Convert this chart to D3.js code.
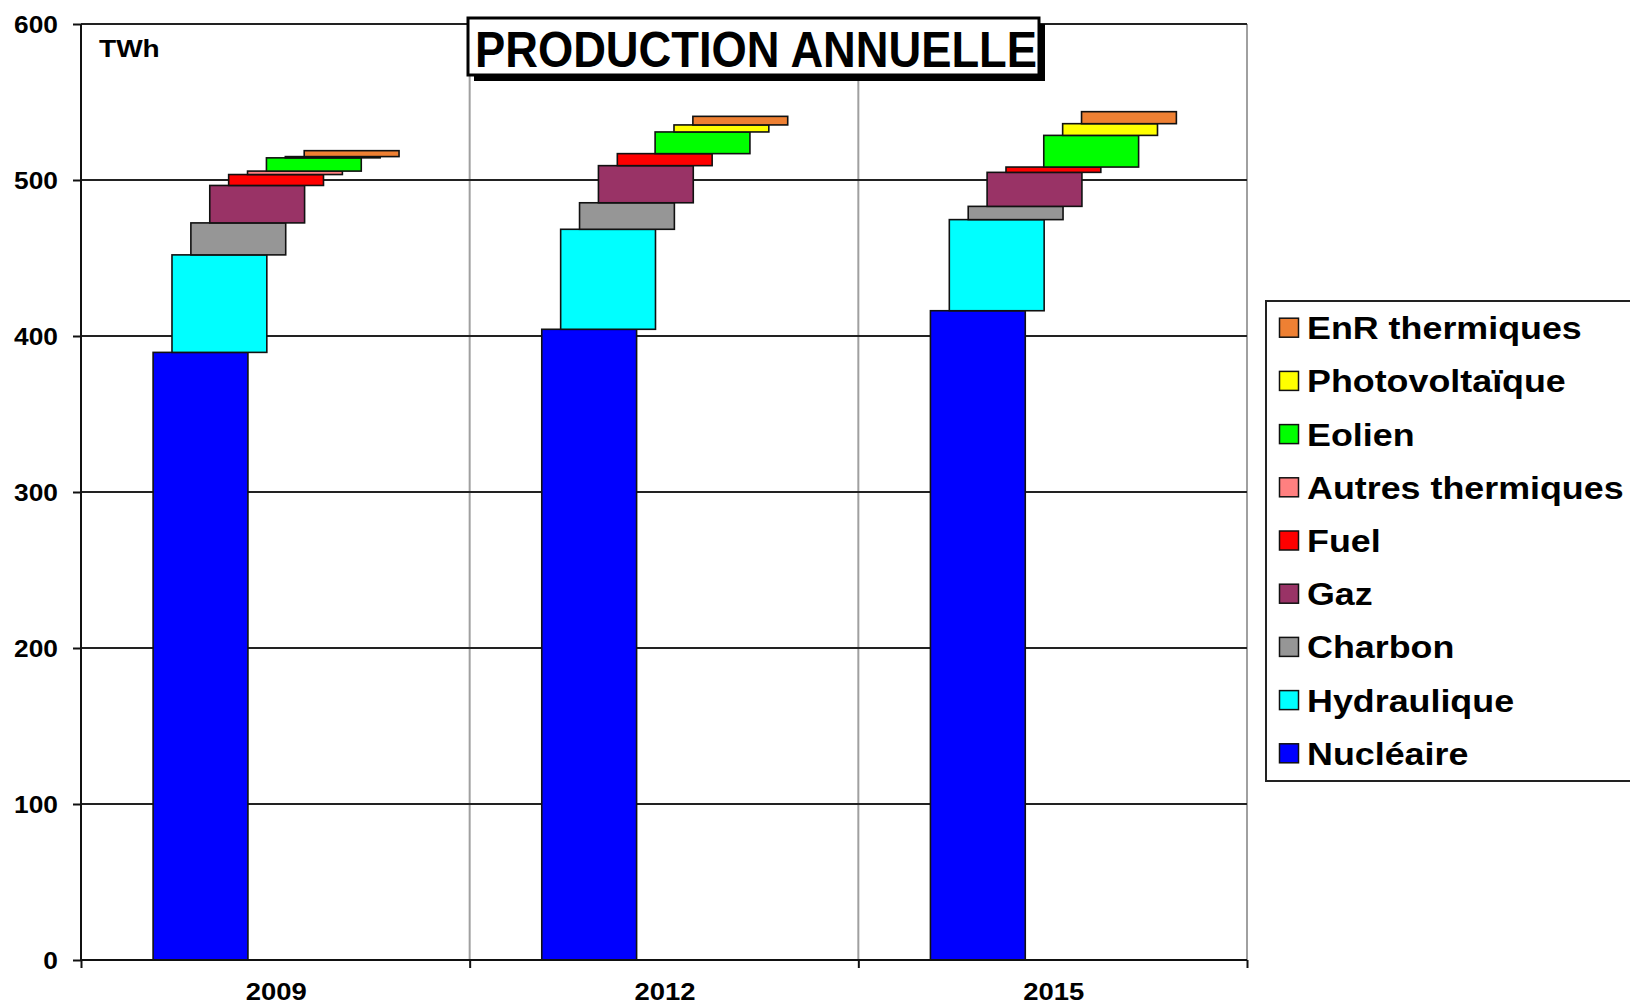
<!DOCTYPE html>
<html>
<head>
<meta charset="utf-8">
<script src="https://cdn.jsdelivr.net/npm/d3@7"></script>
<style>
  html, body { margin: 0; padding: 0; background: #fff; }
  svg { display: block; font-family: "Liberation Sans", Arial, sans-serif; }
</style>
</head>
<body>
<div id="chart"></div>
<script>
// Production annuelle (TWh) — stacked, each source shifted right (staircase)

const YEARS = ['2009', '2012', '2015'];
const SOURCES = ['Nucléaire', 'Hydraulique', 'Charbon', 'Gaz', 'Fuel',
  'Autres thermiques', 'Eolien', 'Photovoltaïque', 'EnR thermiques'];
const COLORS = ['#0000ff', '#00ffff', '#969696', '#993366', '#ff0000',
  '#ff8080', '#00ff00', '#ffff00', '#ee8033'];

const NUCLEAIRE = [389.5, 404.3, 416.2];
const HYDRAULIQUE = [62.5, 64.1, 58.4];
const CHARBON = [20.5, 17.0, 8.5];
const GAZ = [24.0, 23.8, 21.8];
const FUEL = [7.0, 7.7, 3.4];
const AUTRES_THERMIQUES = [2.2, 0, 0];
const EOLIEN = [8.5, 13.9, 20.3];
const PHOTOVOLTAIQUE = [0.8, 4.5, 7.5];
const ENR_THERMIQUES = [3.8, 5.5, 7.7];

const Y_TICKS = [0, 100, 200, 300, 400, 500, 600];

(function () {
  const W = 1630, H = 1005;
  const margin = { top: 24, right: 383, bottom: 45, left: 81 };
  const SX = 1.12; // horizontal stretch of the original lettering

  const svg = d3.select('#chart').append('svg')
    .attr('width', W).attr('height', H)
    .attr('viewBox', `0 0 ${W} ${H}`);

  const series = [NUCLEAIRE, HYDRAULIQUE, CHARBON, GAZ, FUEL,
    AUTRES_THERMIQUES, EOLIEN, PHOTOVOLTAIQUE, ENR_THERMIQUES];
  const rows = YEARS.map((yr, j) => {
    const r = { year: yr };
    SOURCES.forEach((s, i) => { r[s] = series[i][j]; });
    return r;
  });
  const layers = d3.stack().keys(SOURCES)(rows);

  const x = d3.scaleBand().domain(YEARS)
    .range([margin.left, W - margin.right]).padding(0);
  const bw = x.bandwidth();
  const barW = bw * 0.244;
  const shift = d3.scaleLinear().domain([0, SOURCES.length - 1])
    .range([bw * 0.1855, bw * 0.1855 + bw * 0.0486 * (SOURCES.length - 1)]);
  const y = d3.scaleLinear().domain([0, 600]).range([H - margin.bottom, margin.top]);

  const x0 = margin.left, x1 = W - margin.right;
  const y0 = y(0), yTop = y(600);

  // vertical separators between years + right border
  const edges = d3.range(YEARS.length + 1).map(i => x0 + i * bw);
  svg.append('g').selectAll('line')
    .data(edges.slice(1))
    .enter().append('line')
    .attr('x1', d => d).attr('x2', d => d)
    .attr('y1', yTop).attr('y2', y0)
    .attr('stroke', '#a0a0a0').attr('stroke-width', 2);

  // horizontal gridlines
  svg.append('g').selectAll('line')
    .data(Y_TICKS.filter(d => d > 0))
    .enter().append('line')
    .attr('x1', x0).attr('x2', x1)
    .attr('y1', d => y(d)).attr('y2', d => y(d))
    .attr('stroke', '#222').attr('stroke-width', 2);

  // bars
  layers.forEach((layer, i) => {
    svg.append('g').selectAll('rect')
      .data(layer.filter(d => d[1] - d[0] > 0))
      .enter().append('rect')
      .attr('x', d => x(d.data.year) + shift(i))
      .attr('width', barW)
      .attr('y', d => y(d[1]))
      .attr('height', d => y(d[0]) - y(d[1]))
      .attr('fill', COLORS[i])
      .attr('stroke', '#111')
      .attr('stroke-width', 1.6);
  });

  // axes
  const yAxis = svg.append('g')
    .attr('transform', `translate(${x0},0)`)
    .call(d3.axisLeft(y).tickValues(Y_TICKS).tickSize(8).tickFormat(''));
  yAxis.select('.domain').attr('stroke', '#111').attr('stroke-width', 2).attr('d', `M0,${yTop}V${y0}`);
  yAxis.selectAll('.tick line').attr('stroke', '#111').attr('stroke-width', 2);

  const edgeScale = d3.scaleLinear().domain([0, YEARS.length]).range([x0, x1]);
  const xAxis = svg.append('g')
    .attr('transform', `translate(0,${y0})`)
    .call(d3.axisBottom(edgeScale).tickValues(d3.range(YEARS.length + 1)).tickSize(8).tickFormat(''));
  xAxis.select('.domain').attr('stroke', '#111').attr('stroke-width', 2).attr('d', `M${x0},0H${x1}`);
  xAxis.selectAll('.tick line').attr('stroke', '#111').attr('stroke-width', 2);

  // tick labels
  svg.append('g').selectAll('text')
    .data(Y_TICKS)
    .enter().append('text')
    .attr('transform', d => `translate(58,${y(d) + 9}) scale(${SX},1)`)
    .attr('text-anchor', 'end')
    .style('font-size', '23.5px').style('font-weight', 'bold')
    .text(d => d);

  svg.append('g').selectAll('text')
    .data(YEARS)
    .enter().append('text')
    .attr('transform', d => `translate(${x(d) + bw / 2 + 1},1000) scale(${SX},1)`)
    .attr('text-anchor', 'middle')
    .style('font-size', '24.5px').style('font-weight', 'bold')
    .text(d => d);

  svg.append('text')
    .attr('transform', 'translate(99,57) scale(1.22,1)')
    .style('font-size', '23px').style('font-weight', 'bold')
    .text('TWh');

  // title box
  const tb = { x: 468, y: 18, w: 571, h: 57 };
  svg.append('rect')
    .attr('x', tb.x + 6).attr('y', tb.y + 6)
    .attr('width', tb.w).attr('height', tb.h)
    .attr('fill', '#000');
  svg.append('rect')
    .attr('x', tb.x).attr('y', tb.y)
    .attr('width', tb.w).attr('height', tb.h)
    .attr('fill', '#fff').attr('stroke', '#000').attr('stroke-width', 3);
  svg.append('text')
    .attr('x', 756).attr('y', 67)
    .attr('text-anchor', 'middle')
    .attr('textLength', 562).attr('lengthAdjust', 'spacingAndGlyphs')
    .style('font-size', '50px').style('font-weight', 'bold')
    .text('PRODUCTION ANNUELLE');

  // legend (top entry = last source)
  const legend = svg.append('g');
  legend.append('rect')
    .attr('x', 1266).attr('y', 301)
    .attr('width', 400).attr('height', 480)
    .attr('fill', '#fff').attr('stroke', '#222').attr('stroke-width', 2);

  const legendItems = SOURCES.map((s, i) => ({ label: s, color: COLORS[i] })).reverse();
  const item = legend.selectAll('.legend-item')
    .data(legendItems)
    .enter().append('g')
    .attr('class', 'legend-item')
    .attr('transform', (d, i) => `translate(0,${327.7 + i * 53.2})`);

  item.append('rect')
    .attr('x', 1279.5).attr('y', -9.5)
    .attr('width', 19).attr('height', 19)
    .attr('fill', d => d.color)
    .attr('stroke', '#111').attr('stroke-width', 1.5);

  item.append('text')
    .attr('transform', `translate(1307,11.5) scale(${SX},1)`)
    .style('font-size', '32px').style('font-weight', 'bold')
    .text(d => d.label);
})();
</script>
</body>
</html>
